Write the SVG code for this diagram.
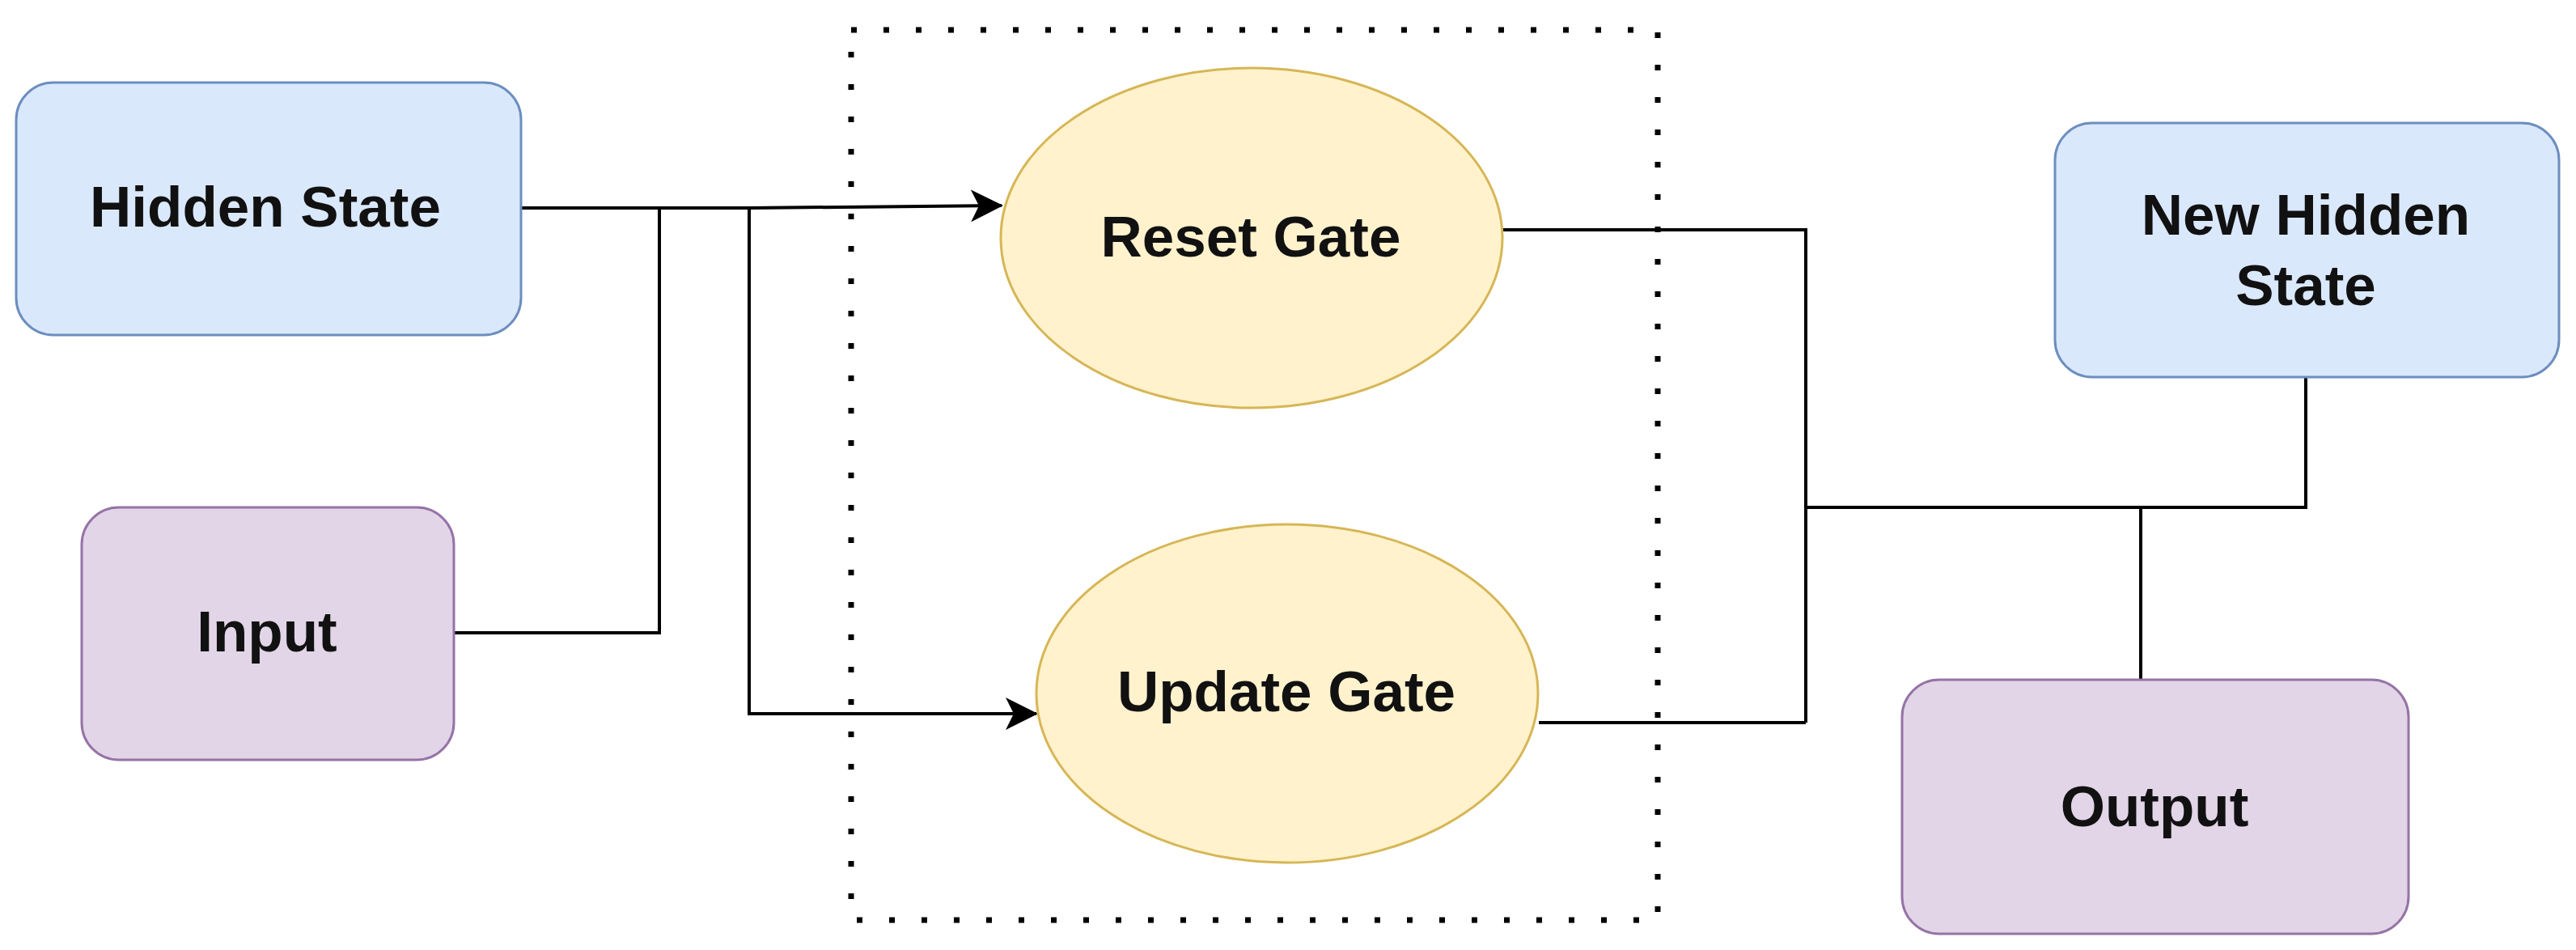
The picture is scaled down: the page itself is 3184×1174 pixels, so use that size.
<svg xmlns="http://www.w3.org/2000/svg" width="3184" height="1174" viewBox="0 0 3184 1174">
<defs>
<style>
.lbl{font-family:"Liberation Sans",Arial,sans-serif;font-weight:bold;font-size:71px;fill:#111;text-anchor:middle}
.blue{fill:#dae8fc;stroke:#6c8ebf;stroke-width:3}
.purple{fill:#e1d5e7;stroke:#9673a6;stroke-width:3}
.yellow{fill:#fff2cc;stroke:#d6b656;stroke-width:3}
.conn{fill:none;stroke:#000;stroke-width:4}
.dots{fill:none;stroke:#000;stroke-width:7;stroke-dasharray:7 33}
</style>
<marker id="arrow" markerUnits="userSpaceOnUse" viewBox="0 0 40 40" markerWidth="40" markerHeight="40" refX="38" refY="20" orient="auto">
<path d="M0,0 L40,20 L0,40 L10,20 z" fill="#000"/>
</marker>
</defs>
<rect width="3184" height="1174" fill="#fff"/>
<g id="group-box">
<rect class="dots" x="1052" y="37" width="997" height="1100"/>
</g>
<g id="connectors">
<path class="conn" d="M644 257 H926 L1238 254" marker-end="url(#arrow)"/>
<path class="conn" d="M561 782 H815 V257"/>
<path class="conn" d="M926 257 V882 H1281" marker-end="url(#arrow)"/>
<path class="conn" d="M1858 284 H2232 V893"/>
<path class="conn" d="M1902 893 H2232"/>
<path class="conn" d="M2232 627 H2850 V466"/>
<path class="conn" d="M2646 627 V840"/>
</g>
<g id="hidden-state">
<rect class="blue" x="20" y="102" width="624" height="312" rx="46"/>
<text class="lbl" x="328" y="280">Hidden State</text>
</g>
<g id="input">
<rect class="purple" x="101" y="627" width="460" height="312" rx="46"/>
<text class="lbl" x="330" y="805">Input</text>
</g>
<g id="reset-gate">
<ellipse class="yellow" cx="1547" cy="294" rx="310" ry="210"/>
<text class="lbl" x="1546" y="317">Reset Gate</text>
</g>
<g id="update-gate">
<ellipse class="yellow" cx="1591" cy="857" rx="310" ry="209"/>
<text class="lbl" x="1590" y="879">Update Gate</text>
</g>
<g id="new-hidden-state">
<rect class="blue" x="2540" y="152" width="623" height="314" rx="46"/>
<text class="lbl" x="2850" y="290">New Hidden</text>
<text class="lbl" x="2850" y="377">State</text>
</g>
<g id="output">
<rect class="purple" x="2351" y="840" width="626" height="314" rx="46"/>
<text class="lbl" x="2663" y="1021">Output</text>
</g>
</svg>
